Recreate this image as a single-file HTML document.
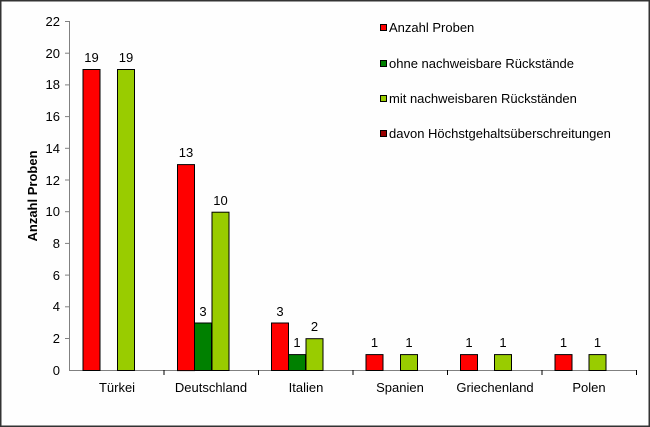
<!DOCTYPE html>
<html><head><meta charset="utf-8"><style>
html,body{margin:0;padding:0;background:#fff}
svg{display:block;font-family:"Liberation Sans",Arial,sans-serif}
</style></head><body>
<svg width="650" height="427" viewBox="0 0 650 427" xmlns="http://www.w3.org/2000/svg">
<rect x="0.75" y="0.75" width="648.5" height="425.5" fill="#fefefe" stroke="#333" stroke-width="1.5"/>
<g stroke="#808080" stroke-width="1">
<line x1="69.5" y1="21" x2="69.5" y2="371"/>
<line x1="69.5" y1="370.5" x2="637" y2="370.5"/>
<line x1="65" y1="21.5" x2="69.5" y2="21.5"/><line x1="65" y1="53.2" x2="69.5" y2="53.2"/><line x1="65" y1="84.9" x2="69.5" y2="84.9"/><line x1="65" y1="116.6" x2="69.5" y2="116.6"/><line x1="65" y1="148.3" x2="69.5" y2="148.3"/><line x1="65" y1="180" x2="69.5" y2="180"/><line x1="65" y1="211.7" x2="69.5" y2="211.7"/><line x1="65" y1="243.4" x2="69.5" y2="243.4"/><line x1="65" y1="275.1" x2="69.5" y2="275.1"/><line x1="65" y1="306.8" x2="69.5" y2="306.8"/><line x1="65" y1="338.5" x2="69.5" y2="338.5"/>
</g>
<g stroke="#000" stroke-width="1">
<line x1="164" y1="370" x2="164" y2="375"/><line x1="258.5" y1="370" x2="258.5" y2="375"/><line x1="353" y1="370" x2="353" y2="375"/><line x1="447.5" y1="370" x2="447.5" y2="375"/><line x1="542" y1="370" x2="542" y2="375"/><line x1="636.5" y1="370" x2="636.5" y2="375"/>
</g>
<g font-size="13" text-anchor="end" fill="#000">
<text x="60" y="26">22</text><text x="60" y="58">20</text><text x="60" y="89">18</text><text x="60" y="121">16</text><text x="60" y="153">14</text><text x="60" y="185">12</text><text x="60" y="216">10</text><text x="60" y="248">8</text><text x="60" y="280">6</text><text x="60" y="311">4</text><text x="60" y="343">2</text><text x="60" y="375">0</text>
</g>
<text transform="translate(37,196) rotate(-90)" font-size="13" font-weight="bold" text-anchor="middle">Anzahl Proben</text>
<g stroke="#000" stroke-width="1">
<rect x="83" y="69.5" width="17" height="301" fill="#ff0000"/>
<rect x="117.5" y="69.5" width="17" height="301" fill="#99cc00"/>
<rect x="177.5" y="164.6" width="17" height="206" fill="#ff0000"/>
<rect x="194.5" y="323" width="17" height="47.5" fill="#008000"/>
<rect x="212" y="212.2" width="17" height="158.3" fill="#99cc00"/>
<rect x="271.5" y="323" width="17" height="47.5" fill="#ff0000"/>
<rect x="288.5" y="354.6" width="17" height="15.9" fill="#008000"/>
<rect x="306" y="338.7" width="17" height="31.8" fill="#99cc00"/>
<rect x="366" y="354.6" width="17" height="15.9" fill="#ff0000"/>
<rect x="400.5" y="354.6" width="17" height="15.9" fill="#99cc00"/>
<rect x="460.5" y="354.6" width="17" height="15.9" fill="#ff0000"/>
<rect x="494.5" y="354.6" width="17" height="15.9" fill="#99cc00"/>
<rect x="555" y="354.6" width="17" height="15.9" fill="#ff0000"/>
<rect x="589" y="354.6" width="17" height="15.9" fill="#99cc00"/>
</g>
<g font-size="13" text-anchor="middle">
<text x="91.5" y="62">19</text><text x="126" y="62">19</text>
<text x="186" y="157">13</text><text x="203" y="316">3</text><text x="220.5" y="205">10</text>
<text x="280" y="316">3</text><text x="297" y="347">1</text><text x="314.5" y="331">2</text>
<text x="374.5" y="347">1</text><text x="409" y="347">1</text>
<text x="469" y="347">1</text><text x="503" y="347">1</text>
<text x="563.5" y="347">1</text><text x="597.5" y="347">1</text>
</g>
<g font-size="13" text-anchor="middle">
<text x="117" y="392">Türkei</text><text x="211" y="392">Deutschland</text><text x="306" y="392">Italien</text><text x="400" y="392">Spanien</text><text x="495" y="392">Griechenland</text><text x="589" y="392">Polen</text>
</g>
<g stroke="#000" stroke-width="1">
<rect x="380.5" y="24.5" width="6" height="6" fill="#ff0000"/>
<rect x="380.5" y="60.5" width="6" height="6" fill="#008000"/>
<rect x="380.5" y="95.5" width="6" height="6" fill="#99cc00"/>
<rect x="380.5" y="130.5" width="6" height="6" fill="#990000"/>
</g>
<g font-size="13">
<text x="389" y="32">Anzahl Proben</text>
<text x="389" y="68">ohne nachweisbare Rückstände</text>
<text x="389" y="103">mit nachweisbaren Rückständen</text>
<text x="389" y="138">davon Höchstgehaltsüberschreitungen</text>
</g>
</svg>
</body></html>
